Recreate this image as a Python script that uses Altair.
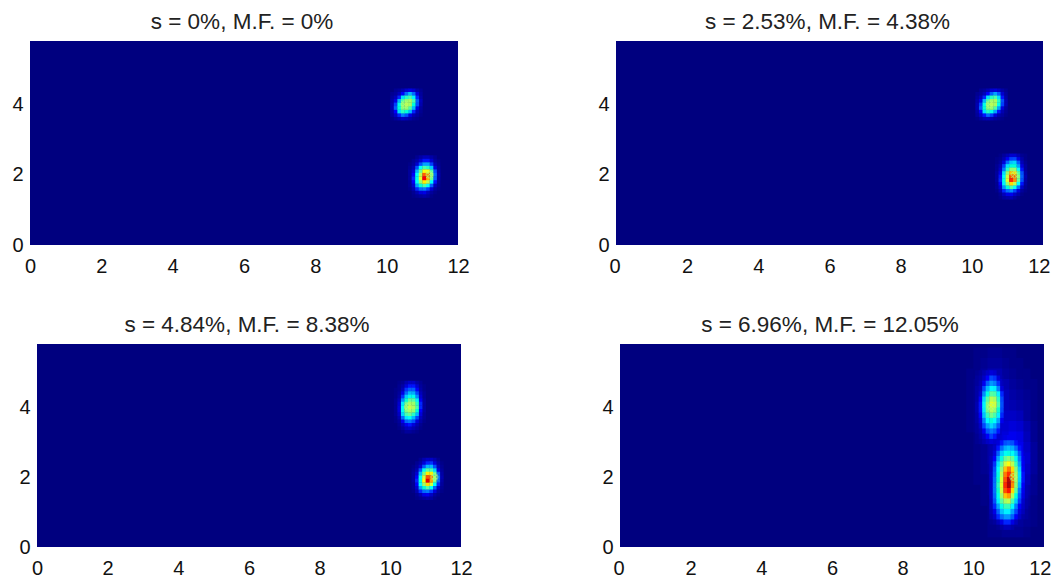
import altair as alt
import pandas as pd

titles = ["s = 0%, M.F. = 0%", "s = 2.53%, M.F. = 4.38%", "s = 4.84%, M.F. = 8.38%", "s = 6.96%, M.F. = 12.05%"]
star_x = [[10.5, 11.2], [10.5, 11.2], [10.5, 11.25], [10.5, 11.13]]
star_y = [[4.0, 2.0], [4.0, 2.0], [4.0, 2.0], [4.0, 2.0]]
x_ticks = [0, 2, 4, 6, 8, 10, 12]
y_ticks = [0, 2, 4]

# each block: left x, top y, dx, dy, rows of colour values (top row first)
p1_up = [
 [.00,.02,.03,.05,.08,.10,.08,.04,.02],
 [.02,.03,.06,.12,.22,.30,.22,.09,.03],
 [.03,.06,.14,.34,.44,.46,.36,.14,.04],
 [.04,.10,.30,.46,.52,.54,.46,.20,.06],
 [.05,.16,.40,.50,.56,.54,.42,.18,.05],
 [.05,.20,.42,.50,.52,.46,.30,.10,.03],
 [.04,.12,.34,.44,.42,.30,.14,.05,.02],
 [.03,.07,.14,.24,.18,.10,.05,.03,.01],
 [.01,.03,.05,.07,.06,.04,.02,.01,.00],
]
p1_lo = [
 [.00,.00,.02,.04,.06,.06,.04,.02,.00],
 [.00,.02,.04,.08,.13,.13,.08,.03,.01],
 [.01,.03,.08,.18,.28,.28,.16,.05,.02],
 [.02,.05,.18,.38,.46,.44,.32,.09,.03],
 [.03,.08,.30,.48,.62,.62,.46,.18,.04],
 [.03,.12,.38,.56,.80,.74,.50,.22,.05],
 [.03,.14,.40,.60,.88,.70,.48,.20,.04],
 [.02,.12,.38,.52,.64,.56,.38,.13,.03],
 [.02,.08,.28,.42,.46,.38,.20,.06,.02],
 [.01,.05,.14,.22,.24,.16,.08,.03,.01],
 [.00,.02,.05,.09,.10,.06,.03,.01,.00],
 [.00,.01,.02,.03,.04,.03,.01,.00,.00],
]
p2_up = [
 [.00,.02,.03,.05,.08,.09,.07,.04,.02],
 [.02,.03,.06,.12,.20,.28,.20,.08,.03],
 [.03,.06,.14,.34,.44,.46,.34,.13,.04],
 [.04,.10,.30,.46,.53,.54,.44,.18,.05],
 [.05,.16,.40,.51,.56,.54,.40,.16,.05],
 [.05,.20,.42,.50,.52,.46,.28,.09,.03],
 [.04,.12,.34,.44,.40,.28,.13,.05,.02],
 [.03,.07,.13,.22,.16,.09,.05,.03,.01],
 [.01,.03,.05,.06,.05,.03,.02,.01,.00],
]
p2_lo = [
 [.00,.01,.03,.05,.08,.08,.05,.02,.01],
 [.01,.02,.05,.11,.16,.17,.10,.04,.01],
 [.01,.03,.09,.22,.31,.33,.20,.06,.02],
 [.02,.05,.16,.34,.42,.42,.28,.09,.03],
 [.02,.07,.24,.44,.52,.52,.38,.13,.03],
 [.03,.10,.34,.52,.68,.66,.46,.18,.04],
 [.03,.13,.38,.58,.82,.80,.50,.20,.05],
 [.03,.14,.40,.60,.86,.74,.48,.18,.04],
 [.02,.12,.36,.52,.66,.56,.38,.13,.03],
 [.02,.08,.27,.42,.46,.38,.22,.07,.02],
 [.01,.05,.14,.22,.26,.17,.09,.03,.01],
 [.00,.02,.06,.10,.11,.07,.04,.01,.00],
 [.00,.01,.03,.04,.05,.03,.01,.00,.00],
]
p3_up = [
 [.00,.01,.02,.05,.07,.07,.04,.02,.00],
 [.00,.02,.04,.09,.13,.13,.08,.03,.01],
 [.01,.02,.06,.15,.20,.20,.12,.04,.01],
 [.01,.03,.10,.22,.30,.29,.17,.06,.02],
 [.01,.04,.15,.32,.40,.40,.26,.08,.02],
 [.02,.06,.26,.43,.48,.47,.36,.11,.03],
 [.02,.08,.35,.48,.54,.53,.44,.14,.03],
 [.02,.09,.38,.51,.58,.55,.46,.14,.03],
 [.02,.09,.39,.50,.54,.52,.42,.12,.03],
 [.02,.07,.33,.46,.48,.44,.30,.09,.02],
 [.01,.05,.22,.35,.39,.30,.17,.06,.02],
 [.01,.03,.11,.21,.24,.18,.09,.04,.01],
 [.00,.02,.06,.11,.13,.09,.05,.02,.00],
 [.00,.01,.03,.06,.07,.05,.03,.01,.00],
 [.00,.00,.01,.03,.03,.02,.01,.00,.00],
]
p3_lo = [
 [.00,.00,.02,.05,.07,.07,.05,.02,.00],
 [.00,.02,.04,.09,.14,.15,.09,.04,.01],
 [.01,.03,.08,.19,.30,.30,.18,.06,.02],
 [.02,.05,.18,.39,.47,.46,.33,.10,.03],
 [.03,.08,.30,.49,.64,.64,.47,.19,.04],
 [.03,.12,.39,.58,.82,.76,.52,.23,.05],
 [.03,.14,.41,.62,.90,.72,.49,.21,.04],
 [.02,.12,.38,.53,.66,.58,.38,.14,.03],
 [.02,.08,.28,.42,.47,.38,.20,.07,.02],
 [.01,.05,.14,.22,.24,.16,.09,.03,.01],
 [.00,.02,.05,.10,.11,.07,.03,.01,.00],
 [.00,.01,.02,.03,.04,.03,.01,.00,.00],
]
# broad glow behind the two blobs of the last panel
p4_glow = [
 [.00,.00,.01,.01,.02,.02,.01,.01,.00,.00,.00],
 [.00,.00,.01,.02,.03,.03,.02,.01,.01,.00,.00],
 [.00,.01,.01,.03,.05,.05,.03,.02,.01,.01,.00],
 [.00,.01,.02,.04,.07,.07,.05,.03,.02,.01,.01],
 [.00,.01,.02,.05,.09,.09,.06,.04,.03,.02,.01],
 [.00,.01,.02,.05,.09,.09,.06,.05,.04,.03,.01],
 [.00,.01,.02,.04,.07,.08,.07,.07,.06,.03,.01],
 [.00,.01,.02,.03,.06,.07,.08,.09,.08,.05,.02],
 [.00,.00,.01,.03,.05,.07,.09,.11,.10,.06,.02],
 [.00,.00,.01,.02,.04,.06,.10,.12,.11,.07,.03],
 [.00,.00,.01,.02,.04,.06,.10,.12,.12,.08,.03],
 [.00,.00,.01,.02,.03,.05,.09,.12,.11,.07,.03],
 [.00,.00,.01,.01,.02,.04,.07,.10,.09,.06,.02],
 [.00,.00,.00,.01,.02,.03,.05,.07,.07,.04,.02],
 [.00,.00,.00,.01,.01,.02,.04,.05,.05,.03,.01],
 [.00,.00,.00,.00,.01,.02,.03,.04,.04,.02,.01],
 [.00,.00,.00,.00,.01,.01,.02,.03,.03,.02,.01],
 [.00,.00,.00,.00,.01,.01,.02,.02,.02,.01,.00],
]
p4_up = [
 [.02,.03,.05,.07,.09,.08,.05,.03,.02],
 [.03,.04,.07,.12,.17,.15,.09,.04,.03],
 [.03,.05,.11,.20,.27,.25,.15,.06,.03],
 [.04,.06,.17,.30,.37,.36,.25,.09,.04],
 [.04,.08,.26,.41,.47,.46,.36,.14,.05],
 [.04,.12,.33,.47,.56,.54,.44,.17,.05],
 [.05,.13,.36,.50,.60,.58,.46,.18,.05],
 [.05,.13,.35,.49,.55,.52,.43,.17,.05],
 [.04,.12,.31,.45,.49,.46,.36,.14,.05],
 [.04,.09,.25,.37,.42,.38,.28,.11,.04],
 [.03,.07,.17,.28,.33,.29,.19,.08,.03],
 [.03,.05,.11,.19,.24,.20,.13,.06,.03],
 [.02,.04,.07,.12,.16,.13,.08,.04,.02],
 [.02,.03,.05,.07,.09,.08,.05,.03,.02],
]
p4_lo = [
 [.03,.04,.06,.08,.10,.11,.10,.08,.06,.04,.03],
 [.04,.06,.09,.13,.18,.20,.18,.13,.09,.05,.03],
 [.05,.07,.13,.22,.29,.31,.29,.22,.13,.06,.04],
 [.05,.09,.20,.32,.39,.41,.39,.31,.18,.08,.04],
 [.06,.12,.28,.41,.48,.51,.48,.40,.24,.10,.05],
 [.06,.15,.34,.47,.58,.62,.56,.45,.28,.11,.05],
 [.06,.18,.38,.52,.68,.76,.66,.50,.32,.12,.05],
 [.07,.20,.41,.56,.76,.86,.72,.53,.34,.13,.05],
 [.07,.22,.43,.59,.82,.94,.76,.53,.33,.13,.05],
 [.07,.23,.44,.60,.86,.95,.74,.51,.30,.12,.05],
 [.07,.23,.43,.58,.82,.87,.66,.47,.25,.11,.05],
 [.07,.21,.40,.53,.68,.72,.55,.41,.20,.10,.05],
 [.06,.18,.35,.47,.54,.56,.46,.32,.16,.08,.04],
 [.06,.14,.28,.40,.45,.45,.37,.24,.12,.07,.04],
 [.05,.10,.20,.31,.36,.36,.28,.17,.09,.06,.03],
 [.04,.07,.14,.22,.27,.27,.20,.12,.07,.04,.03],
 [.02,.03,.06,.10,.14,.14,.10,.06,.03,.02,.01],
 [.01,.01,.02,.04,.06,.06,.04,.02,.01,.01,.00],
]

blocks = [
    [(10.1, 4.45, .1, .1, p1_up), (10.6, 2.55, .1, .1, p1_lo)],
    [(10.1, 4.45, .1, .1, p2_up), (10.65, 2.6, .1, .1, p2_lo)],
    [(10.1, 4.75, .1, .1, p3_up), (10.6, 2.55, .1, .1, p3_lo)],
    [(9.6, 5.7, .2, .3, p4_glow), (10.05, 5.05, .1, .15, p4_up), (10.45, 3.2, .1, .15, p4_lo)],
]

JET = ["#00007f", "#0000ff", "#007fff", "#00ffff", "#7fff7f", "#ffff00", "#ff7f00", "#ff0000", "#7f0000"]
FONT = "Liberation Sans"


def cells(panel):
    rows = []
    for left, top, dx, dy, matrix in blocks[panel]:
        for r, row in enumerate(matrix):
            for c, v in enumerate(row):
                if v > 0:
                    x0 = left + c * dx
                    y1 = top - r * dy
                    rows.append(dict(x0=x0, x1=x0 + dx * 1.08, y0=y1 - dy * 1.08, y1=y1, v=v))
    return pd.DataFrame(rows)


def panel(i, w, h):
    xs = alt.Scale(domain=[0, 12], nice=False)
    ys = alt.Scale(domain=[0, 5.8], nice=False)
    if i % 2:
        xax = alt.Axis(values=x_ticks, title=None, grid=False, ticks=False, domain=False, labelPadding=11, labelFlush=True, labelFlushOffset=7, format="d")
    else:
        xax = alt.Axis(values=x_ticks, title=None, grid=False, ticks=False, domain=False, labelPadding=11, labelFlush=False, format="d")
    yax = alt.Axis(values=y_ticks, title=None, grid=False, ticks=False, domain=False, labelPadding=7, format="d")
    bg = alt.Chart(pd.DataFrame({"a": [0], "b": [12], "c": [0], "d": [5.8]})).mark_rect(color="#00007f").encode(
        x=alt.X("a:Q", scale=xs, axis=xax), x2="b:Q", y=alt.Y("c:Q", scale=ys, axis=yax), y2="d:Q")
    heat = alt.Chart(cells(i)).mark_rect().encode(
        x=alt.X("x0:Q", scale=xs), x2="x1:Q", y=alt.Y("y0:Q", scale=ys), y2="y1:Q",
        color=alt.Color("v:Q", scale=alt.Scale(domain=[k / 8 for k in range(9)], range=JET), legend=None),
        order="v:Q")
    sd = pd.DataFrame({"x": star_x[i], "y": star_y[i]})
    s1 = alt.Chart(sd).mark_point(shape="cross", size=45, filled=False, stroke="#b8ff70", strokeWidth=0.7, opacity=0.9).encode(
        x=alt.X("x:Q", scale=xs), y=alt.Y("y:Q", scale=ys))
    s2 = alt.Chart(sd).mark_point(shape="M-1,-1L1,1M-1,1L1,-1", size=45, filled=False, stroke="#b8ff70", strokeWidth=0.7, opacity=0.9).encode(
        x=alt.X("x:Q", scale=xs), y=alt.Y("y:Q", scale=ys))
    return alt.layer(bg, heat, s1, s2).properties(
        width=w, height=h,
        title=alt.TitleParams(titles[i], font=FONT, fontSize=22.5, fontWeight="normal", color="#222222", offset=8, dx=-2))


def spacer(w, h):
    return alt.Chart(pd.DataFrame({"a": [0]})).mark_point(opacity=0).encode(x=alt.value(5), y=alt.value(5)).properties(width=w, height=h)


row1 = alt.hconcat(spacer(22, 204), panel(0, 428, 204), spacer(158, 204), panel(1, 427, 204), spacing=0, bounds="flush")
row2 = alt.hconcat(spacer(29, 203), panel(2, 424, 203), spacer(159, 203), panel(3, 424, 203), spacing=0, bounds="flush")
chart = alt.vconcat(row1, row2, spacing=37).configure_view(stroke=None).configure_axis(
    labelFont=FONT, labelFontSize=20, labelColor="#111111").properties(padding={"left": 0, "top": 2, "right": 0, "bottom": 0})

chart.save("out.html", embed_options={"renderer": "svg", "actions": False})
